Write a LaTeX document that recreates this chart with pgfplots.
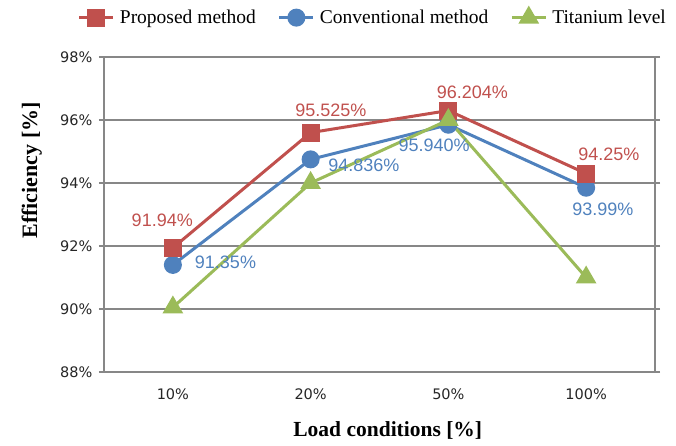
\documentclass[border=0pt]{standalone}
\usepackage{pgfplots}
\pgfplotsset{compat=1.18}
\usepackage{fontspec}
\setmainfont{Liberation Serif}
\newfontfamily\arial{Liberation Sans}
\newfontfamily\ticksans{DejaVu Sans}
\definecolor{cred}{HTML}{C0504D}
\definecolor{cblue}{HTML}{4F81BD}
\definecolor{cgreen}{HTML}{9BBB59}
\definecolor{cgrid}{HTML}{878787}
\begin{document}
\begin{tikzpicture}
\begin{axis}[
  name=ax,
  scale only axis,
  width=551pt, height=315pt,
  xmin=-0.5, xmax=3.5, ymin=88, ymax=98,
  xtick={0,1,2,3},
  xticklabels={10\%,20\%,50\%,100\%},
  extra x ticks={-0.5,0.5,1.5,2.5,3.5},
  extra x tick labels={},
  extra x tick style={major tick length=5pt, tick align=outside, grid=none},
  ytick={88,90,92,94,96,98},
  yticklabels={88\%,90\%,92\%,94\%,96\%,98\%},
  ymajorgrids,
  major grid style={cgrid, line width=1.6pt},
  axis line style={cgrid, line width=1.6pt},
  major x tick style={draw=none},
  major y tick style={cgrid, line width=1.6pt},
  tick align=outside,
  major tick length=5pt,
  axis x line*=box, axis y line*=box,
  ticklabel style={font=\ticksans\fontsize{14.5}{14.5}\selectfont, text=black!85},
  yticklabel style={xshift=-3pt},
  xticklabel style={yshift=-8pt},
  /pgf/number format/assume math mode=true,
  clip=false,
  legend columns=3,
  legend style={draw=none, fill=none, at={(rel axis cs:0.488,1.125)}, anchor=center,
    font=\fontsize{19.5}{19.5}\selectfont,
    /tikz/every odd column/.append style={column sep=3pt},
    /tikz/every even column/.append style={column sep=20pt}},
  legend image code/.code={
    \draw[#1, mark repeat=2, mark phase=2] plot coordinates {(0pt,0pt) (17pt,0pt) (34pt,0pt)};},
]
\addlegendimage{cred, line width=3pt, mark=square*, mark size=7.5pt, mark options={solid}}
\addlegendentry{Proposed method}
\addlegendimage{cblue, line width=3pt, mark=*, mark size=7.5pt}
\addlegendentry{Conventional method}
\addlegendimage{cgreen, line width=3pt, mark=triangle*, mark size=9pt}
\addlegendentry{Titanium level}

\addplot[forget plot, cblue, line width=3pt, mark=*, mark size=7.5pt]
  coordinates {(0,91.40) (1,94.75) (2,95.85) (3,93.85)};
\addplot[forget plot, cred, line width=3pt, mark=square*, mark size=7.5pt]
  coordinates {(0,91.94) (1,95.60) (2,96.30) (3,94.30)};
\addplot[forget plot, cgreen, line width=3pt, mark=triangle*, mark size=9pt]
  coordinates {(0,90.05) (1,94.00) (2,96.00) (3,91.00)};

\begin{scope}[every node/.style={font=\arial\fontsize{18}{18}\selectfont}]
\node[text=cred] at (axis cs:-0.077,92.83) {91.94\%};
\node[text=cred] at (axis cs:1.147,96.32) {95.525\%};
\node[text=cred] at (axis cs:2.174,96.89) {96.204\%};
\node[text=cred] at (axis cs:3.165,94.92) {94.25\%};
\node[text=cblue] at (axis cs:0.382,91.49) {91.35\%};
\node[text=cblue] at (axis cs:1.387,94.57) {94.836\%};
\node[text=cblue] at (axis cs:1.897,95.21) {95.940\%};
\node[text=cblue] at (axis cs:3.121,93.17) {93.99\%};
\end{scope}

\node[rotate=90, font=\bfseries\fontsize{22}{22}\selectfont] at (rel axis cs:-0.131,0.64) {Efficiency [\%]};
\node[font=\bfseries\fontsize{21.5}{21.5}\selectfont] at (rel axis cs:0.515,-0.187) {Load conditions [\%]};

\coordinate (bl) at (rel axis cs:0,0);
\coordinate (tr) at (rel axis cs:1,1);
\end{axis}
\pgfresetboundingbox
\path ([xshift=-104pt,yshift=-74pt]bl) rectangle ([xshift=21pt,yshift=57pt]tr);
\end{tikzpicture}
\end{document}
